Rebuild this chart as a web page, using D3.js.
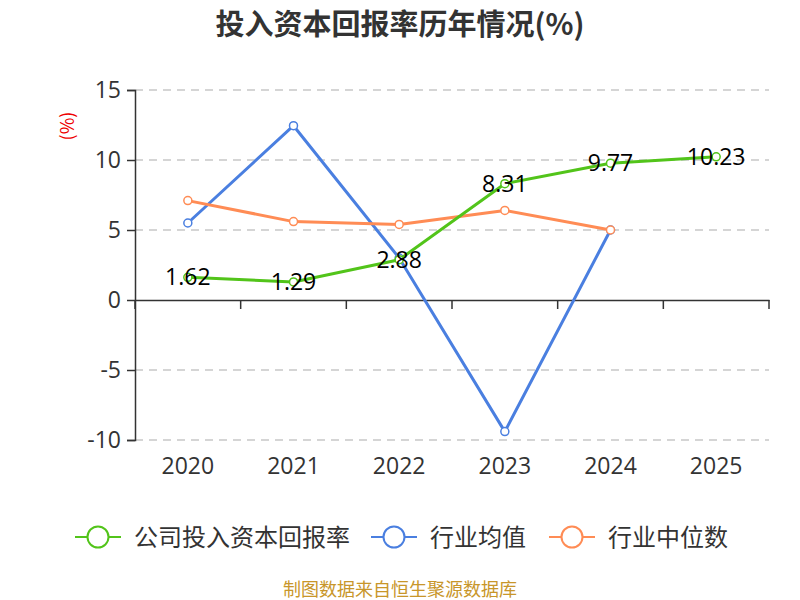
<!DOCTYPE html>
<html>
<head>
<meta charset="utf-8">
<style>
  body { margin: 0; background: #fff; }
  svg { font-family: "Noto Sans CJK SC", "Noto Sans", sans-serif; }
</style>
</head>
<body>
<svg width="800" height="600"></svg>
<script src="https://cdn.jsdelivr.net/npm/d3@7/dist/d3.min.js"></script>
<script>

var years = ["2020", "2021", "2022", "2023", "2024", "2025"];
var companyRoic = [1.62, 1.29, 2.88, 8.31, 9.77, 10.23];
var industryAvg = [5.5, 12.45, 3.0, -9.4, 5.0];
var industryMedian = [7.1, 5.6, 5.4, 6.4, 5.0];
var yTicks = [-10, -5, 0, 5, 10, 15];
var seriesNames = ["公司投入资本回报率", "行业均值", "行业中位数"];

var svg = d3.select("svg"),
    margin = {top: 90, right: 31, bottom: 160, left: 135},
    width = 800 - margin.left - margin.right,
    height = 600 - margin.top - margin.bottom,
    g = svg.append("g").attr("transform", "translate(" + margin.left + "," + margin.top + ")");

var x = d3.scaleBand().domain(years).range([0, width]);
var y = d3.scaleLinear().domain([-10, 15]).range([height, 0]);

var colors = ["#52c41a", "#4a7fe0", "#ff8c55"];
var numFont = "'Open Sans', 'Noto Sans', sans-serif";

svg.append("text")
    .attr("x", 400).attr("y", 35)
    .attr("text-anchor", "middle")
    .attr("font-size", 29).attr("font-weight", "bold")
    .attr("fill", "#333")
    .text("投入资本回报率历年情况(%)");

svg.append("text")
    .attr("transform", "translate(74,126) rotate(-90)")
    .attr("text-anchor", "middle")
    .attr("font-size", 18)
    .attr("fill", "#e00")
    .text("(%)");

// grid
g.selectAll(".grid")
    .data(yTicks.filter(function(d) { return d !== 0; }))
  .enter().append("line")
    .attr("x1", 0).attr("x2", width)
    .attr("y1", function(d) { return y(d); })
    .attr("y2", function(d) { return y(d); })
    .attr("stroke", "#c8c8c8")
    .attr("stroke-width", 1.5)
    .attr("stroke-dasharray", "8,6");

// y axis
var yAxis = g.append("g")
    .call(d3.axisLeft(y).tickValues(yTicks).tickSize(8).tickPadding(6).tickFormat(function(d) { return String(d); }));
yAxis.select(".domain").attr("stroke", "#333").attr("stroke-width", 1.5);
yAxis.selectAll(".tick line").attr("stroke", "#333").attr("stroke-width", 1.5);
yAxis.selectAll(".tick text").attr("font-size", 23).attr("fill", "#333")
    .attr("font-family", numFont);

// x axis on zero line
var xAxis = g.append("g")
    .attr("transform", "translate(0," + y(0) + ")")
    .call(d3.axisBottom(x).tickSize(0).tickFormat(""));
xAxis.select(".domain").attr("stroke", "#333").attr("stroke-width", 1.5);

g.selectAll(".xtick")
    .data(d3.range(years.length + 1))
  .enter().append("line")
    .attr("x1", function(i) { return i * x.step(); })
    .attr("x2", function(i) { return i * x.step(); })
    .attr("y1", y(0)).attr("y2", y(0) + 9)
    .attr("stroke", "#333").attr("stroke-width", 1.5);

g.selectAll(".xlabel")
    .data(years)
  .enter().append("text")
    .attr("x", function(d) { return x(d) + x.bandwidth() / 2; })
    .attr("y", height + 34)
    .attr("text-anchor", "middle")
    .attr("font-size", 23).attr("fill", "#333")
    .attr("font-family", numFont)
    .text(function(d) { return d; });

var line = d3.line()
    .x(function(d, i) { return x(years[i]) + x.bandwidth() / 2; })
    .y(function(d) { return y(d); });

var allSeries = [companyRoic, industryAvg, industryMedian];
var drawOrder = [1, 2, 0];

drawOrder.forEach(function(s) {
  var data = allSeries[s];
  g.append("path")
      .datum(data)
      .attr("fill", "none")
      .attr("stroke", colors[s])
      .attr("stroke-width", 3)
      .attr("stroke-linejoin", "round")
      .attr("d", line);
  g.selectAll(".pt" + s)
      .data(data)
    .enter().append("circle")
      .attr("cx", function(d, i) { return x(years[i]) + x.bandwidth() / 2; })
      .attr("cy", function(d) { return y(d); })
      .attr("r", 4)
      .attr("fill", "#fff")
      .attr("stroke", colors[s])
      .attr("stroke-width", 1.5);
});

g.selectAll(".vlabel")
    .data(companyRoic)
  .enter().append("text")
    .attr("x", function(d, i) { return x(years[i]) + x.bandwidth() / 2; })
    .attr("y", function(d) { return y(d) + 8; })
    .attr("text-anchor", "middle")
    .attr("font-size", 23).attr("fill", "#000")
    .attr("font-family", numFont)
    .text(function(d) { return d.toFixed(2); });

// legend
var legendX = [75, 371, 549];
var legend = svg.selectAll(".legend")
    .data(seriesNames)
  .enter().append("g")
    .attr("transform", function(d, i) { return "translate(" + legendX[i] + ",537)"; });
legend.append("line")
    .attr("x1", 0).attr("x2", 46).attr("y1", 0).attr("y2", 0)
    .attr("stroke", function(d, i) { return colors[i]; })
    .attr("stroke-width", 2);
legend.append("circle")
    .attr("cx", 23).attr("cy", 0).attr("r", 10.5)
    .attr("fill", "#fff")
    .attr("stroke", function(d, i) { return colors[i]; })
    .attr("stroke-width", 2);
legend.append("text")
    .attr("x", 59).attr("y", 9)
    .attr("font-size", 24).attr("fill", "#333")
    .text(function(d) { return d; });

svg.append("text")
    .attr("x", 400).attr("y", 596)
    .attr("text-anchor", "middle")
    .attr("font-size", 18)
    .attr("fill", "#c8962a")
    .text("制图数据来自恒生聚源数据库");

</script>
</body>
</html>
